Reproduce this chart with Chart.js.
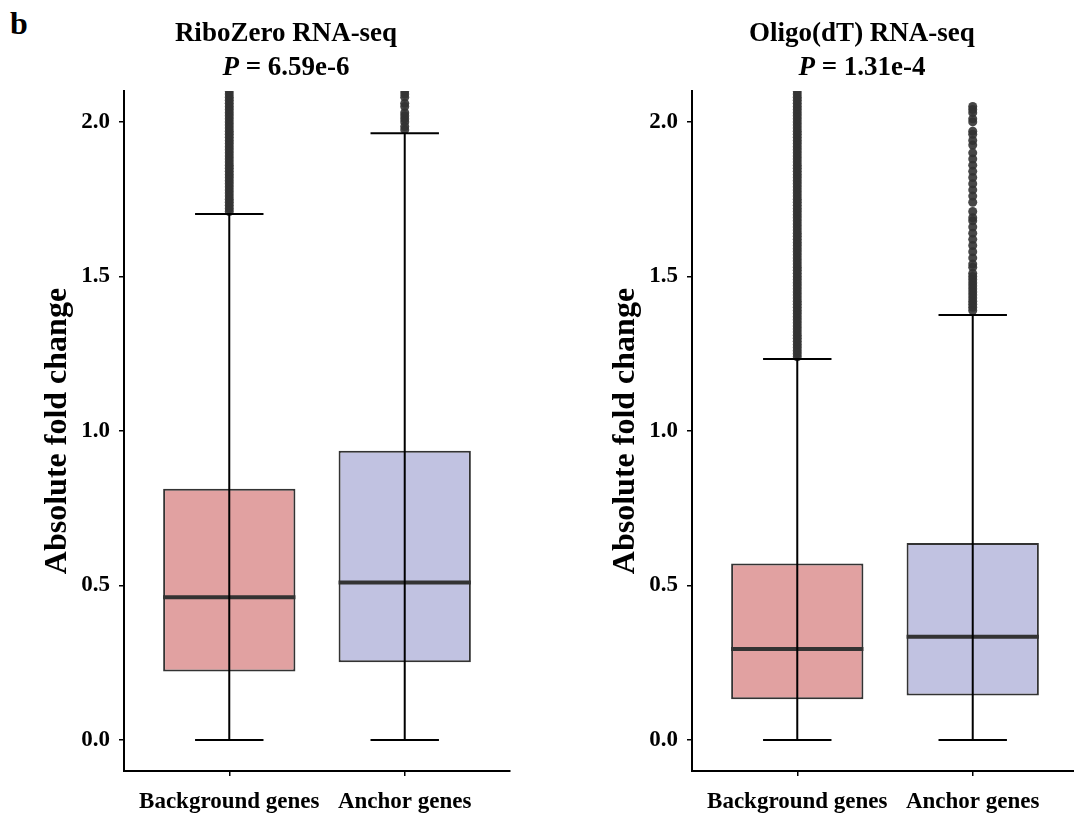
<!DOCTYPE html>
<html>
<head>
<meta charset="utf-8">
<script src="https://cdn.jsdelivr.net/npm/chart.js@4.4.1/dist/chart.umd.min.js"></script>
<style>
  html, body { margin: 0; padding: 0; background: #fff; width: 1074px; height: 814px; overflow: hidden; }
  .panel { position: absolute; top: 0; width: 540px; height: 814px; }
  .panel canvas { display: block; }
  .title { position: absolute; top: 15px; width: 400px; text-align: center; font: bold 27px/34px 'Liberation Serif', 'Times New Roman', serif; color: #000; }
  .tag { position: absolute; left: 10px; top: 8px; font: bold 32px/30px 'Liberation Serif', 'Times New Roman', serif; color: #000; }
</style>
</head>
<body>
<div class="tag">b</div>
<div class="panel" style="left:0"><canvas id="ribo" width="540" height="814"></canvas></div>
<div class="panel" style="left:568px"><canvas id="oligo" width="540" height="814"></canvas></div>
<div class="title" style="left:86px">RiboZero RNA-seq<br><i>P</i> = 6.59e-6</div>
<div class="title" style="left:662px">Oligo(dT) RNA-seq<br><i>P</i> = 1.31e-4</div>

<script>
const groups = ['Background genes', 'Anchor genes'];
const yTicks = [0, 0.5, 1.0, 1.5, 2.0];
const boxColors = ['#E1A1A1', '#C1C2E1'];

// RiboZero panel
const riboLow = [0, 0];
const riboQ1 = [0.222, 0.252];
const riboMedian = [0.462, 0.510];
const riboQ3 = [0.813, 0.936];
const riboHigh = [1.702, 1.963];
const riboBgOutliers = [1.71, 1.72, 1.73, 1.74, 1.75, 1.76, 1.77, 1.78, 1.79, 1.80, 1.81, 1.82, 1.83, 1.84,
  1.85, 1.86, 1.87, 1.88, 1.89, 1.90, 1.91, 1.92, 1.93, 1.94, 1.95, 1.96, 1.97, 1.98, 1.99, 2.00, 2.01,
  2.02, 2.03, 2.04, 2.05, 2.06, 2.07, 2.08, 2.09, 2.10, 2.11];
const riboAnchorOutliers = [1.975, 1.985, 2.00, 2.01, 2.02, 2.03, 2.05, 2.06, 2.08, 2.09, 2.10];

// Oligo(dT) panel
const oligoLow = [0, 0];
const oligoQ1 = [0.132, 0.144];
const oligoMedian = [0.295, 0.334];
const oligoQ3 = [0.571, 0.638];
const oligoHigh = [1.233, 1.375];
const oligoBgOutliers = [1.24, 1.25, 1.26, 1.27, 1.28, 1.29, 1.30, 1.31, 1.32, 1.33, 1.34, 1.35, 1.36, 1.37,
  1.38, 1.39, 1.40, 1.41, 1.42, 1.43, 1.44, 1.45, 1.46, 1.47, 1.48, 1.49, 1.50, 1.51, 1.52, 1.53, 1.54,
  1.55, 1.56, 1.57, 1.58, 1.59, 1.60, 1.61, 1.62, 1.63, 1.64, 1.65, 1.66, 1.67, 1.68, 1.69, 1.70, 1.71,
  1.72, 1.73, 1.74, 1.75, 1.76, 1.77, 1.78, 1.79, 1.80, 1.81, 1.82, 1.83, 1.84, 1.85, 1.86, 1.87, 1.88,
  1.89, 1.90, 1.91, 1.92, 1.93, 1.94, 1.95, 1.96, 1.97, 1.98, 1.99, 2.00, 2.01, 2.02, 2.03, 2.04, 2.05,
  2.06, 2.07, 2.08, 2.09, 2.10, 2.11];
const oligoAnchorOutliers = [2.05, 2.04, 2.03, 2.01, 2.00, 1.97, 1.96, 1.94, 1.925, 1.90, 1.88, 1.86, 1.84,
  1.82, 1.80, 1.78, 1.76, 1.74, 1.71, 1.69, 1.68, 1.66, 1.64, 1.62, 1.60, 1.58, 1.56, 1.54, 1.53, 1.51,
  1.50, 1.49, 1.48, 1.47, 1.46, 1.45, 1.44, 1.43, 1.42, 1.41, 1.40, 1.39];

const FONT = "'Liberation Serif', 'Times New Roman', serif";
const BOX_HALF = 0.377;
const CAP_HALF = 0.195;

function boxPlot(id, low, q1, median, q3, high, outliers) {
  const boxes = groups.map((g, i) => ({ x: i + 1, y: [q1[i], q3[i]] }));

  const whiskers = [];
  const medians = [];
  groups.forEach((g, i) => {
    const x = i + 1;
    whiskers.push({ x: x, y: low[i] }, { x: x, y: high[i] }, { x: x, y: null });
    whiskers.push({ x: x - CAP_HALF, y: low[i] }, { x: x + CAP_HALF, y: low[i] }, { x: x, y: null });
    whiskers.push({ x: x - CAP_HALF, y: high[i] }, { x: x + CAP_HALF, y: high[i] }, { x: x, y: null });
    medians.push({ x: x - BOX_HALF, y: median[i] }, { x: x + BOX_HALF, y: median[i] }, { x: x, y: null });
  });

  const points = [];
  outliers.forEach((vals, i) => vals.forEach(v => points.push({ x: i + 1, y: v })));

  return new Chart(document.getElementById(id), {
    type: 'bar',
    data: {
      datasets: [
        {
          type: 'line', data: whiskers, order: 0,
          borderColor: '#000', borderWidth: 2, pointRadius: 0, spanGaps: false, clip: 0
        },
        {
          type: 'line', data: medians, order: 1,
          borderColor: '#333', borderWidth: 4, pointRadius: 0, spanGaps: false
        },
        {
          type: 'scatter', data: points, order: 2,
          backgroundColor: 'rgba(51,51,51,0.9)', borderWidth: 0, pointRadius: 4.5, clip: 0
        },
        {
          type: 'bar', data: boxes, order: 3,
          backgroundColor: boxColors, borderColor: '#333', borderWidth: 2, borderSkipped: false,
          categoryPercentage: 1, barPercentage: 2 * BOX_HALF
        }
      ]
    },
    options: {
      responsive: false,
      animation: false,
      layout: { padding: { top: 91, right: 30, bottom: 0, left: 0 } },
      plugins: { legend: { display: false }, tooltip: { enabled: false } },
      scales: {
        x: {
          type: 'linear', min: 0.4, max: 2.6, offset: false,
          afterBuildTicks: axis => { axis.ticks = groups.map((g, i) => ({ value: i + 1 })); },
          afterFit: axis => { axis.height = 43; },
          ticks: {
            autoSkip: false, maxRotation: 0, padding: 12, color: '#000',
            font: { family: FONT, size: 23, weight: 'bold' },
            callback: (v, i) => groups[i]
          },
          grid: { offset: false, drawOnChartArea: false, drawTicks: true, tickLength: 5, color: '#000', lineWidth: 1.5 },
          border: { display: true, color: '#000', width: 2 }
        },
        y: {
          min: -0.1, max: 2.1,
          afterBuildTicks: axis => { axis.ticks = yTicks.map(v => ({ value: v })); },
          afterFit: axis => { axis.width = 124; },
          ticks: {
            padding: 9, color: '#000',
            font: { family: FONT, size: 23, weight: 'bold' },
            callback: v => v.toFixed(1)
          },
          grid: { drawOnChartArea: false, drawTicks: true, tickLength: 5, color: '#000', lineWidth: 1.5 },
          border: { display: true, color: '#000', width: 2 },
          title: {
            display: true, text: 'Absolute fold change', color: '#000',
            font: { family: FONT, size: 32, weight: 'bold' },
            padding: { top: 39, bottom: 0 }
          }
        }
      }
    }
  });
}

boxPlot('ribo', riboLow, riboQ1, riboMedian, riboQ3, riboHigh, [riboBgOutliers, riboAnchorOutliers]);
boxPlot('oligo', oligoLow, oligoQ1, oligoMedian, oligoQ3, oligoHigh, [oligoBgOutliers, oligoAnchorOutliers]);
</script>
</body>
</html>
